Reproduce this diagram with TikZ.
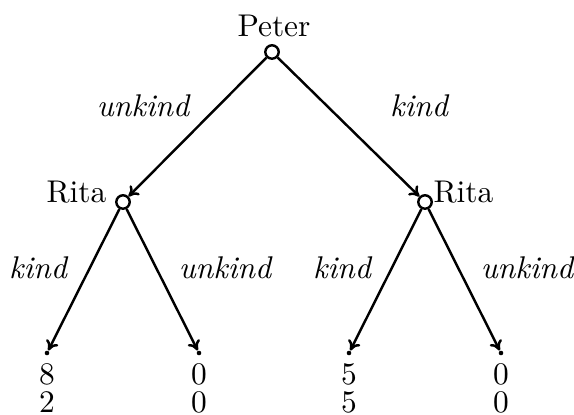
\documentclass[tikz,border=0pt]{standalone}
\usetikzlibrary{arrows.meta}
\begin{document}
\begin{tikzpicture}[x=0.328pt,y=-0.328pt,
  every node/.style={font=\fontsize{10.3}{12}\selectfont},
  decision/.style={circle,draw,line width=0.8pt,fill=white,inner sep=0pt,minimum size=4.4pt},
  leaf/.style={circle,fill,inner sep=0pt,minimum size=1.5pt},
  edge/.style={-{To[length=3.2pt,width=4.4pt]},line width=0.8pt},
  lbl/.style={inner sep=0pt,font=\fontsize{10.3}{12}\selectfont\itshape},
  txt/.style={inner sep=0pt}]
\useasboundingbox (0,0) rectangle (574,415);
\node[decision] (root) at (272,52) {};
\node[decision] (L) at (123,202) {};
\node[decision] (R) at (425,202) {};
\node[leaf] (LL) at (47,353) {};
\node[leaf] (LR) at (199,353) {};
\node[leaf] (RL) at (349,353) {};
\node[leaf] (RR) at (501,353) {};
\draw[edge] (root) -- (L);
\draw[edge] (root) -- (R);
\draw[edge] (L) -- (LL);
\draw[edge] (L) -- (LR);
\draw[edge] (R) -- (RL);
\draw[edge] (R) -- (RR);
\node[txt,anchor=base] (peter) at (274,37) {Peter};
\node[txt,anchor=base east] (ritaL) at (107,203) {Rita};
\node[txt,anchor=base west] (ritaR) at (433,203) {Rita};
\node[lbl] (l1) at (143,106) {unkind};
\node[lbl] (l2) at (419,106) {kind};
\node[lbl] (l3) at (38,268) {kind};
\node[lbl] (l4) at (225,268) {unkind};
\node[lbl] (l5) at (342,268) {kind};
\node[lbl] (l6) at (527,268) {unkind};
\node[txt,anchor=base] (p1a) at (47,385) {8};
\node[txt,anchor=base] (p1b) at (47,413) {2};
\node[txt,anchor=base] (p2a) at (199,385) {0};
\node[txt,anchor=base] (p2b) at (199,413) {0};
\node[txt,anchor=base] (p3a) at (349,385) {5};
\node[txt,anchor=base] (p3b) at (349,413) {5};
\node[txt,anchor=base] (p4a) at (501,385) {0};
\node[txt,anchor=base] (p4b) at (501,413) {0};
\end{tikzpicture}
\end{document}
